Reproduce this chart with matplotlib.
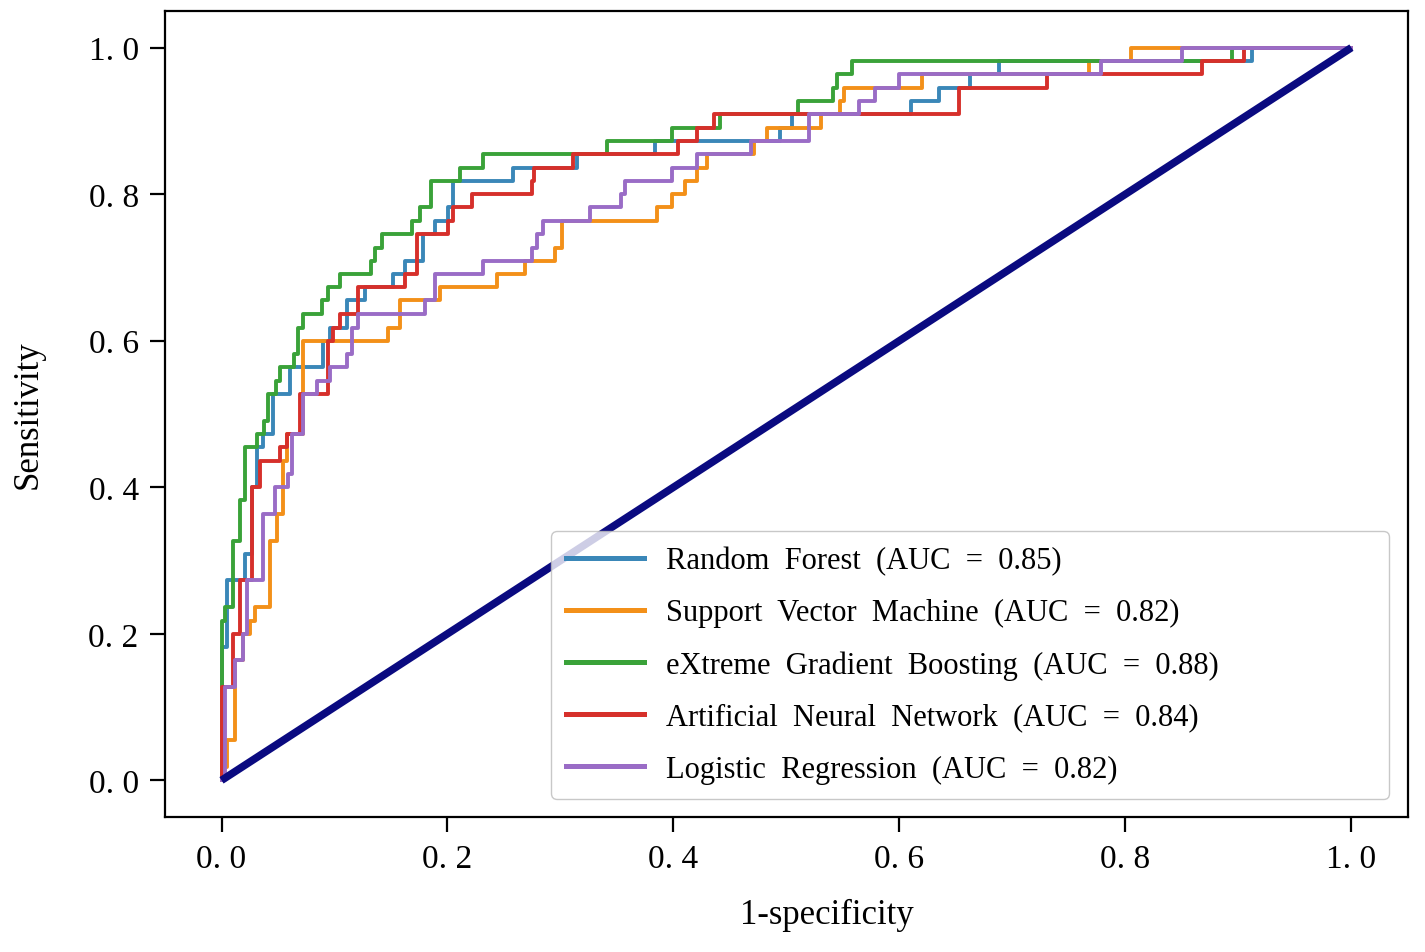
import matplotlib
matplotlib.use("Agg")
import matplotlib.pyplot as plt

# ROC step points: (fpr at which the curve jumps, tpr after the jump)
rf_fpr = [0, 0, 0.0053, 0.0212, 0.0274, 0.0318, 0.0371, 0.046, 0.061, 0.090, 0.0963, 0.111, 0.127,
          0.152, 0.1625, 0.178, 0.189, 0.2005, 0.205, 0.258, 0.315, 0.384, 0.494, 0.505, 0.610,
          0.635, 0.662, 0.688, 0.912, 1.0]
rf_tpr = [0, 0.182, 0.273, 0.309, 0.4, 0.455, 0.473, 0.527, 0.564, 0.6, 0.618, 0.655, 0.673,
          0.691, 0.709, 0.745, 0.764, 0.782, 0.818, 0.836, 0.855, 0.873, 0.891, 0.909, 0.927,
          0.945, 0.964, 0.982, 1.0, 1.0]

svm_fpr = [0, 0, 0.0053, 0.0115, 0.0186, 0.0256, 0.030, 0.0433, 0.0495, 0.054, 0.058, 0.0724, 0.1475,
           0.158, 0.193, 0.244, 0.2686, 0.295, 0.301, 0.385, 0.399, 0.41, 0.4205, 0.430, 0.4717,
           0.483, 0.531, 0.547, 0.551, 0.620, 0.768, 0.805, 1.0]
svm_tpr = [0, 0.018, 0.055, 0.164, 0.2, 0.218, 0.236, 0.327, 0.364, 0.436, 0.473, 0.6, 0.618,
           0.655, 0.673, 0.691, 0.709, 0.727, 0.764, 0.782, 0.8, 0.818, 0.836, 0.855, 0.873,
           0.891, 0.909, 0.927, 0.945, 0.964, 0.982, 1.0, 1.0]

xgb_fpr = [0, 0, 0.0035, 0.0106, 0.0168, 0.0212, 0.0318, 0.038, 0.0415, 0.048, 0.052, 0.064,
           0.068, 0.072, 0.089, 0.094, 0.105, 0.132, 0.136, 0.142, 0.169, 0.176, 0.185, 0.211,
           0.231, 0.341, 0.399, 0.441, 0.510, 0.541, 0.545, 0.558, 0.894, 1.0]
xgb_tpr = [0, 0.218, 0.236, 0.327, 0.382, 0.455, 0.473, 0.491, 0.527, 0.545, 0.564, 0.582,
           0.618, 0.636, 0.655, 0.673, 0.691, 0.709, 0.727, 0.745, 0.764, 0.782, 0.818, 0.836,
           0.855, 0.873, 0.891, 0.909, 0.927, 0.945, 0.964, 0.982, 1.0, 1.0]

ann_fpr = [0, 0, 0.0106, 0.0168, 0.0274, 0.0345, 0.052, 0.058, 0.0698, 0.0945, 0.099, 0.105,
           0.121, 0.1625, 0.173, 0.2005, 0.205, 0.222, 0.2747, 0.277, 0.311, 0.404, 0.4205,
           0.436, 0.653, 0.7306, 0.8675, 0.905, 1.0]
ann_tpr = [0, 0.127, 0.2, 0.273, 0.4, 0.436, 0.455, 0.473, 0.527, 0.6, 0.618, 0.636,
           0.673, 0.691, 0.745, 0.764, 0.782, 0.8, 0.818, 0.836, 0.855, 0.873, 0.891,
           0.909, 0.945, 0.964, 0.982, 1.0, 1.0]

lr_fpr = [0, 0.003, 0.0115, 0.0186, 0.023, 0.0371, 0.0477, 0.059, 0.0627, 0.0724, 0.0848, 0.0963,
          0.111, 0.1157, 0.121, 0.180, 0.189, 0.2315, 0.2747, 0.279, 0.2845, 0.326, 0.354, 0.357,
          0.399, 0.4205, 0.469, 0.520, 0.5645, 0.578, 0.60, 0.778, 0.85, 1.0]
lr_tpr = [0, 0.127, 0.164, 0.2, 0.273, 0.364, 0.4, 0.418, 0.473, 0.527, 0.545, 0.564,
          0.582, 0.618, 0.636, 0.655, 0.691, 0.709, 0.727, 0.745, 0.764, 0.782, 0.8, 0.818,
          0.836, 0.855, 0.873, 0.909, 0.927, 0.945, 0.964, 0.982, 1.0, 1.0]

model_names = ["Random  Forest", "Support  Vector  Machine", "eXtreme  Gradient  Boosting",
               "Artificial  Neural  Network", "Logistic  Regression"]
auc_values = [0.85, 0.82, 0.88, 0.84, 0.82]
colors = ["#3a87b8", "#f39019", "#3aa239", "#d6302b", "#9a6cc6"]

tick_values = [0.0, 0.2, 0.4, 0.6, 0.8, 1.0]
tick_labels = ["0. 0", "0. 2", "0. 4", "0. 6", "0. 8", "1. 0"]

curves = [(rf_fpr, rf_tpr), (svm_fpr, svm_tpr), (xgb_fpr, xgb_tpr), (ann_fpr, ann_tpr), (lr_fpr, lr_tpr)]

plt.rcParams['font.family'] = ['Liberation Serif', 'DejaVu Serif']

fig = plt.figure(figsize=(14.25, 9.53), dpi=100)
ax = fig.add_axes([0.1158, 0.1417, 0.8722, 0.8457])

for (fx, fy), name, auc, c in zip(curves, model_names, auc_values, colors):
    ax.step(fx, fy, where='post', color=c, lw=2.8,
            label=f"{name}  (AUC  =  {auc:.2f})")

ax.plot([0, 1], [0, 1], color="#0a0a80", lw=5.5, solid_capstyle='butt')

ax.set_xlim(-0.05, 1.05)
ax.set_ylim(-0.05, 1.05)
ax.set_xticks(tick_values)
ax.set_xticklabels(tick_labels)
ax.set_yticks(tick_values)
ax.set_yticklabels(tick_labels)
ax.tick_params(axis='both', labelsize=24, length=11, width=1.6, pad=8)
for s in ax.spines.values():
    s.set_linewidth(1.6)

ax.set_xlabel("1-specificity", fontsize=25)
ax.set_ylabel("Sensitivity", fontsize=25)
ax.xaxis.set_label_coords(0.5326, -0.101)
ax.yaxis.set_label_coords(-0.097, 0.5)

leg = ax.legend(loc='lower left', bbox_to_anchor=(0.3105, 0.0223, 0.674, 0.3), mode='expand',
                borderaxespad=0, fontsize=22, handlelength=2.55, handletextpad=0.72,
                labelspacing=0.75, borderpad=0.5,
                framealpha=0.8, edgecolor='#bbbbbb')
for line in leg.get_lines():
    line.set_linewidth(3.6)

fig.savefig("out.png", dpi=100)
